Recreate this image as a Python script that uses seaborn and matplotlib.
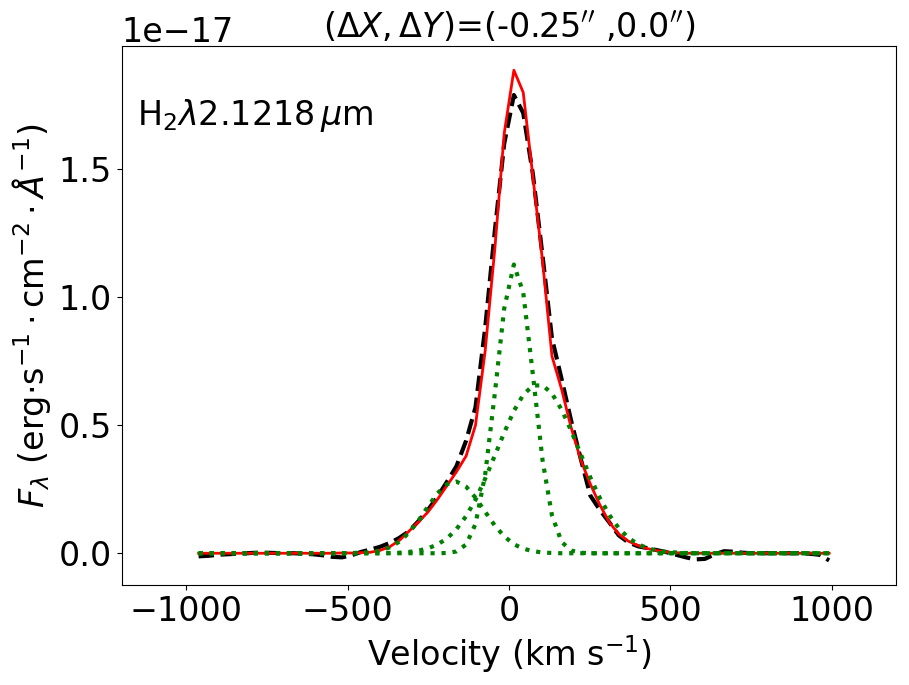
import numpy as np
import seaborn as sns
import matplotlib
matplotlib.use("Agg")
import matplotlib.pyplot as plt

# velocity grid of the extracted spectrum (km/s)
velocity = [-962, -932, -903, -873, -844, -814, -784, -755, -725, -696,
            -666, -636, -607, -577, -548, -518, -488, -459, -429, -400,
            -370, -340, -311, -281, -252, -222, -192, -163, -133, -104,
            -74, -44, -15, 15, 44, 74, 104, 133, 163, 192,
            222, 252, 281, 311, 340, 370, 400, 429, 459, 488,
            518, 548, 577, 607, 636, 666, 696, 725, 755, 784,
            814, 844, 873, 903, 932, 962, 992]

# fluxes in units of 1e-17 erg/s/cm2/A
observed = [-0.012, -0.010, -0.006, -0.004, -0.002, 0.000, 0.002, 0.002, 0.001, 0.000,
            0.000, -0.002, -0.004, -0.008, -0.014, -0.016, -0.008, 0.005, 0.015, 0.025,
            0.040, 0.060, 0.085, 0.125, 0.168, 0.220, 0.280, 0.340, 0.440, 0.570,
            0.880, 1.260, 1.600, 1.790, 1.720, 1.480, 1.160, 0.840, 0.680, 0.520,
            0.370, 0.225, 0.170, 0.120, 0.070, 0.042, 0.027, 0.020, 0.012, 0.004,
            -0.006, -0.016, -0.024, -0.022, -0.005, 0.008, 0.006, 0.002, 0.000, 0.000,
            0.000, 0.000, 0.000, 0.000, -0.002, -0.006, -0.028]

model = [0.0, 0.0, 0.0, 0.0, 0.0, 0.0, 0.0, 0.0, 0.0, 0.0,
         0.0, 0.0, 0.0, 0.0, 0.0, 0.001, 0.001, 0.002, 0.004, 0.011,
         0.025, 0.050, 0.085, 0.122, 0.160, 0.210, 0.265, 0.318, 0.380, 0.500,
         0.790, 1.190, 1.640, 1.887, 1.800, 1.470, 1.140, 0.770, 0.640, 0.493,
         0.365, 0.270, 0.190, 0.120, 0.075, 0.047, 0.030, 0.018, 0.010, 0.005,
         0.002, 0.0, 0.0, 0.0, 0.0, 0.0, 0.0, 0.0, 0.0, 0.0,
         0.0, 0.0, 0.0, 0.0, 0.0, 0.0, 0.0]

comp_narrow = [0.0, 0.0, 0.0, 0.0, 0.0, 0.0, 0.0, 0.0, 0.0, 0.0,
               0.0, 0.0, 0.0, 0.0, 0.0, 0.0, 0.0, 0.0, 0.0, 0.0,
               0.0, 0.0, 0.0, 0.0, 0.0, 0.0, 0.001, 0.007, 0.034, 0.114,
               0.307, 0.625, 0.956, 1.128, 1.018, 0.697, 0.362, 0.148, 0.044, 0.011,
               0.002, 0.0, 0.0, 0.0, 0.0, 0.0, 0.0, 0.0, 0.0, 0.0,
               0.0, 0.0, 0.0, 0.0, 0.0, 0.0, 0.0, 0.0, 0.0, 0.0,
               0.0, 0.0, 0.0, 0.0, 0.0, 0.0, 0.0]

comp_broad = [0.0, 0.0, 0.0, 0.0, 0.0, 0.0, 0.0, 0.0, 0.0, 0.0,
              0.0, 0.0, 0.0, 0.0, 0.0, 0.0, 0.0, 0.0, 0.0, 0.0,
              0.001, 0.002, 0.005, 0.010, 0.019, 0.034, 0.058, 0.094, 0.145, 0.209,
              0.291, 0.382, 0.471, 0.556, 0.619, 0.655, 0.656, 0.624, 0.561, 0.480,
              0.388, 0.296, 0.217, 0.149, 0.098, 0.060, 0.035, 0.020, 0.010, 0.005,
              0.003, 0.001, 0.0, 0.0, 0.0, 0.0, 0.0, 0.0, 0.0, 0.0,
              0.0, 0.0, 0.0, 0.0, 0.0, 0.0, 0.0]

comp_blue = [0.0, 0.0, 0.0, 0.0, 0.0, 0.0, 0.0, 0.0, 0.0, 0.0,
             0.0, 0.0, 0.0, 0.0, 0.0, 0.0, 0.001, 0.002, 0.004, 0.010,
             0.023, 0.045, 0.079, 0.127, 0.181, 0.234, 0.270, 0.280, 0.260, 0.217,
             0.162, 0.108, 0.066, 0.035, 0.018, 0.008, 0.003, 0.001, 0.0, 0.0,
             0.0, 0.0, 0.0, 0.0, 0.0, 0.0, 0.0, 0.0, 0.0, 0.0,
             0.0, 0.0, 0.0, 0.0, 0.0, 0.0, 0.0, 0.0, 0.0, 0.0,
             0.0, 0.0, 0.0, 0.0, 0.0, 0.0, 0.0]

scale = 1e-17
plt.rcParams['font.size'] = 24

fig, ax = plt.subplots(figsize=(9.09, 6.85), dpi=100)
fig.subplots_adjust(left=0.134, right=0.986, top=0.933, bottom=0.146)

sns.lineplot(x=velocity, y=np.array(observed) * scale, color='k', linestyle='--', lw=3, ax=ax)
sns.lineplot(x=velocity, y=np.array(model) * scale, color='r', linestyle='-', lw=2, ax=ax)
for comp in [comp_blue, comp_narrow, comp_broad]:
    sns.lineplot(x=velocity, y=np.array(comp) * scale, color='g', linestyle=':', lw=3, ax=ax)

ax.set_xlim(-1200, 1200)
ax.set_ylim(-0.124e-17, 1.982e-17)
ax.set_xticks([-1000, -500, 0, 500, 1000])
ax.set_yticks([0, 0.5e-17, 1.0e-17, 1.5e-17])
ax.tick_params(labelsize=24)
ax.yaxis.get_offset_text().set_fontsize(24)

ax.set_xlabel(r'Velocity (km s$^{-1}$)', fontsize=24)
ax.set_ylabel(r'$F_\lambda$ (erg$\cdot$s$^{-1}\cdot$cm$^{-2}\cdot\AA^{-1}$)', fontsize=24)
ax.set_title(r"$(\Delta X,\Delta Y)$=(-0.25$''$ ,0.0$''$)", fontsize=24)
ax.text(0.02, 0.87, r'H$_2\lambda$2.1218$\,\mu$m', transform=ax.transAxes,
        fontsize=24, va='center', ha='left')

fig.savefig('out.png', dpi=100)
